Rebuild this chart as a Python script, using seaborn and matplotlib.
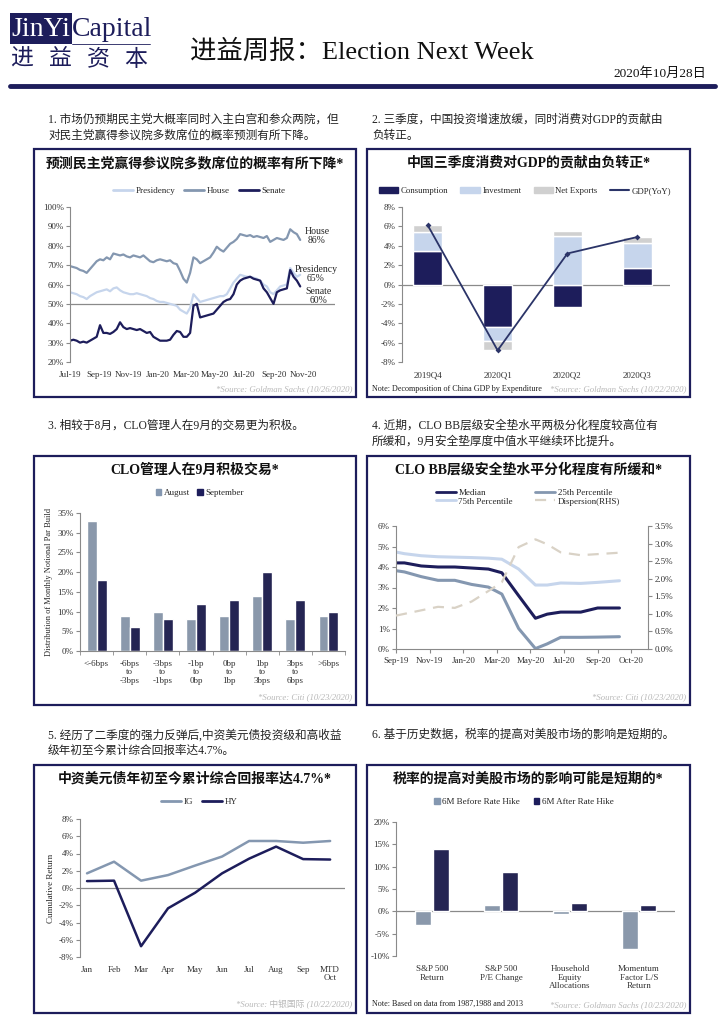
import numpy as np
import pandas as pd
import seaborn as sns
import matplotlib
matplotlib.use("Agg")
from matplotlib import pyplot as plt
from matplotlib.patches import Rectangle, Patch
from matplotlib.lines import Line2D
from matplotlib.ticker import FuncFormatter

# ---------------- data ----------------
# chart 1: weekly odds (%), Jul-19 .. Oct-20
poll_start = "2019-07-01"
poll_presidency = [
    56, 55.5, 55, 54, 53.5,          # Jul-19
    52.5, 54, 55, 56,                # Aug
    56.5, 57, 57.5, 56.5, 58,        # Sep
    58.5, 57, 56, 55.5,              # Oct
    55, 55, 55.5, 55,                # Nov
    54.5, 54, 53, 52.5, 51.5,        # Dec
    51, 51, 50.5, 50,                # Jan-20
    49.5, 49, 47, 46,                # Feb
    45, 48, 55, 53, 51,              # Mar
    51.5, 52, 52.5, 53,              # Apr
    53.5, 54, 54, 55,                # May
    58, 61, 63, 65, 64.5,            # Jun
    64, 64, 63.5, 63,                # Jul
    62, 60, 59, 56, 55,              # Aug
    57, 59, 59.5, 60,                # Sep
    68.5, 66, 64, 65,                # Oct
]
poll_house = [
    69.5, 69, 68.5, 67.5, 67,
    66, 68, 70, 72,
    73, 72.5, 74, 73, 76,
    75.5, 75, 75.5, 74.5,
    74, 75, 74.5, 74,
    75, 73.5, 72, 71.5, 72.5,
    73, 72.5, 72, 72.5,
    71, 70.5, 67, 63,
    61, 66, 74, 73, 71,
    72, 73, 74, 76.5,
    79.5, 78, 77, 79,
    81, 82, 83.5, 86, 85.5,
    85, 85.5, 84.5, 85,
    84.5, 84, 85, 82, 83,
    84, 83.5, 83, 84,
    88.5, 87, 86, 83,
]
poll_senate = [
    31, 31.5, 31, 30, 30.5,
    30, 31, 32, 33,
    39, 35, 35, 34.5, 35.5,
    37, 40.5, 38, 37,
    37.5, 37, 36.5, 37,
    36, 35, 35.5, 33, 32,
    31, 31, 31, 31.5,
    34, 36, 35.5, 33,
    33, 35, 49, 50, 43,
    43.5, 44, 44.5, 45,
    47, 49, 51, 52,
    52.5, 55, 60, 62, 63,
    63.5, 64, 63, 62.5,
    62, 58, 56, 53, 50,
    56, 57, 57.5, 58,
    67.5, 64, 62, 59,
]

# chart 2: China GDP contribution (%)
quarters = ["2019Q4", "2020Q1", "2020Q2", "2020Q3"]
consumption = [3.5, -4.4, -2.3, 1.7]
investment = [1.9, -1.4, 5.0, 2.6]
net_exports = [0.7, -1.0, 0.5, 0.6]
gdp_yoy = [6.1, -6.8, 3.2, 4.9]

# chart 3: CLO par build distribution (%)
buckets = ["<-6bps", "-6bps\nto\n-3bps", "-3bps\nto\n-1bps", "-1bp\nto\n0bp",
           "0bp\nto\n1bp", "1bp\nto\n3bps", "3bps\nto\n6bps", ">6bps"]
august = [33, 9, 10, 8, 9, 14, 8, 9]
september = [18, 6, 8, 12, 13, 20, 13, 10]

# chart 4: CLO BB cushion (%)
cushion_x = [0, 0.5, 1.5, 2.5, 3.5, 4.5, 5.5, 6.3, 7.3, 8.3, 9.0, 9.8, 11.0, 12.0, 13.3]
median = [4.2, 4.2, 4.05, 4.0, 4.0, 3.95, 3.9, 3.72, 2.6, 1.5, 1.7, 1.8, 1.8, 2.0, 2.0]
pct25 = [3.82, 3.76, 3.53, 3.35, 3.35, 3.15, 3.02, 2.68, 1.0, 0.02, 0.25, 0.57, 0.57, 0.58, 0.6]
pct75 = [4.73, 4.65, 4.55, 4.5, 4.48, 4.46, 4.43, 4.38, 3.9, 3.12, 3.12, 3.22, 3.2, 3.25, 3.33]
dispersion = [0.95, 1.0, 1.1, 1.2, 1.17, 1.35, 1.65, 1.9, 2.9, 3.12, 2.98, 2.75, 2.67, 2.7, 2.74]
cushion_ticks = ["Sep-19", "Nov-19", "Jan-20", "Mar-20", "May-20", "Jul-20", "Sep-20", "Oct-20"]

# chart 5: cumulative return (%)
months = ["Jan", "Feb", "Mar", "Apr", "May", "Jun", "Jul", "Aug", "Sep", "MTD\nOct"]
ig_return = [1.7, 3.05, 0.85, 1.5, 2.6, 3.65, 5.45, 5.45, 5.25, 5.45]
hy_return = [0.8, 0.85, -6.75, -2.35, -0.55, 1.7, 3.4, 4.8, 3.35, 3.3]

# chart 6: rate hike impact (%)
hike_cats = ["S&P 500\nReturn", "S&P 500\nP/E Change", "Household\nEquity\nAllocations",
             "Momentum\nFactor L/S\nReturn"]
before_hike = [-3.0, 1.4, -0.5, -8.5]
after_hike = [13.9, 8.9, 1.9, 1.5]

# ---------------- style ----------------
NAVY = "#1d1d5b"
GRAYBLUE = "#8497b0"
LIGHT = "#c6d5ec"
LGRAY = "#d0d0d0"
AXIS = "#8a8a8a"
SRC = "#b8b8b8"

sns.set_style("white")
plt.rcParams["font.family"] = ["Liberation Serif", "Noto Sans CJK SC", "DejaVu Sans"]
plt.rcParams["axes.unicode_minus"] = False

W, H = 724, 1024
fig = plt.figure(figsize=(W / 100, H / 100), dpi=100)


def fx(x):
    return x / W


def fy(y):
    return 1 - y / H


def panel_axes(x0, y0, x1, y1):
    return fig.add_axes([fx(x0), fy(y1), (x1 - x0) / W, (y1 - y0) / H])


def txt(x, y, s, **kw):
    kw.setdefault("va", "center")
    return fig.text(fx(x), fy(y), s, **kw)


def pct(fmt):
    return FuncFormatter(lambda v, p: fmt % v + "%")


def style_axes(ax, fmt="%d", hide_bottom=True):
    sns.despine(ax=ax, top=True, right=True, bottom=hide_bottom)
    ax.spines["left"].set_color(AXIS)
    ax.spines["bottom"].set_color(AXIS)
    ax.tick_params(axis="y", left=True, length=3, width=0.8, color=AXIS,
                   labelsize=6.5, pad=1.5, labelcolor="#333333")
    ax.tick_params(axis="x", bottom=False, labelsize=6.5, pad=3, labelcolor="#333333")
    ax.yaxis.set_major_formatter(pct(fmt))
    ax.set_xlabel("")
    ax.set_ylabel("")


def legend(ax, handles, labels, cx, cy, ncol, **kw):
    opts = dict(loc="center", bbox_to_anchor=(fx(cx), fy(cy)), bbox_transform=fig.transFigure,
                ncol=ncol, frameon=False, fontsize=6.5, handlelength=2.2,
                columnspacing=1.0, handletextpad=0.3, borderpad=0, labelspacing=0.2)
    opts.update(kw)
    ax.legend(handles, labels, **opts)


# ---------------- header ----------------
fig.add_artist(Rectangle((fx(10), fy(44)), 62 / W, 31 / H, transform=fig.transFigure,
                         fc=NAVY, ec="none"))
txt(11, 29, "JinYi", color="white", fontsize=20, ha="left")
txt(72, 29, "Capital", color=NAVY, fontsize=20, ha="left")
fig.add_artist(Line2D([fx(72), fx(150)], [fy(44), fy(44)], transform=fig.transFigure,
                      color=NAVY, lw=0.6))
for cx, ch in zip([22, 60, 98, 136], "进益资本"):
    txt(cx, 59, ch, color=NAVY, fontsize=16.5, ha="center", family="Noto Sans CJK SC",
        fontweight="medium")
txt(190, 52, "进益周报：Election Next Week", fontsize=19, ha="left", color="#111111")
txt(706, 74, "2020年10月28日", fontsize=9.5, ha="right", color="#111111")
fig.add_artist(Line2D([fx(10), fx(715)], [fy(86), fy(86)], transform=fig.transFigure,
                      color=NAVY, lw=3.5))

paras = [
    (48, 120, "1. 市场仍预期民主党大概率同时入主白宫和参众两院，但"),
    (48, 136, "对民主党赢得参议院多数席位的概率预测有所下降。"),
    (372, 120, "2. 三季度，中国投资增速放缓，同时消费对GDP的贡献由"),
    (372, 136, "负转正。"),
    (48, 426, "3. 相较于8月，CLO管理人在9月的交易更为积极。"),
    (372, 426, "4. 近期，CLO BB层级安全垫水平两极分化程度较高位有"),
    (372, 442, "所缓和，9月安全垫厚度中值水平继续环比提升。"),
    (48, 735, "5. 经历了二季度的强力反弹后,中资美元债投资级和高收益"),
    (48, 751, "级年初至今累计综合回报率达4.7%。"),
    (372, 735, "6. 基于历史数据，税率的提高对美股市场的影响是短期的。"),
]
for x, y, s in paras:
    txt(x, y, s, fontsize=8.4, ha="left", color="#222222")

# ---------------- panels ----------------
boxes = [(34, 149, 356, 397), (367, 149, 690, 397), (34, 456, 356, 705),
         (367, 456, 690, 705), (34, 765, 356, 1013), (367, 765, 690, 1013)]
titles = ["预测民主党赢得参议院多数席位的概率有所下降*", "中国三季度消费对GDP的贡献由负转正*",
          "CLO管理人在9月积极交易*", "CLO BB层级安全垫水平分化程度有所缓和*",
          "中资美元债年初至今累计综合回报率达4.7%*", "税率的提高对美股市场的影响可能是短期的*"]
sources = ["*Source: Goldman Sachs (10/26/2020)", "*Source: Goldman Sachs (10/22/2020)",
           "*Source: Citi (10/23/2020)", "*Source: Citi (10/23/2020)",
           "*Source: 中银国际 (10/22/2020)", "*Source: Goldman Sachs (10/23/2020)"]
for (x0, y0, x1, y1), t, s in zip(boxes, titles, sources):
    fig.add_artist(Rectangle((fx(x0), fy(y1)), (x1 - x0) / W, (y1 - y0) / H,
                             transform=fig.transFigure, fill=False, ec=NAVY, lw=1.6))
    txt((x0 + x1) / 2, y0 + 14, t, fontsize=10, fontweight="bold", ha="center", color="#111111")
    txt(x1 - 4, y1 - 8, s, fontsize=6.3, ha="right", style="italic", color=SRC)

# ---- chart 1 ----
poll_dates = pd.date_range(poll_start, periods=len(poll_house), freq="7D")
ax1 = panel_axes(70, 207, 335, 362)
sns.lineplot(x=poll_dates, y=poll_presidency, color=LIGHT, lw=1.6, ax=ax1)
sns.lineplot(x=poll_dates, y=poll_house, color=GRAYBLUE, lw=1.6, ax=ax1)
sns.lineplot(x=poll_dates, y=poll_senate, color=NAVY, lw=1.6, ax=ax1)
ax1.axhline(50, color=AXIS, lw=0.9, zorder=0)
ax1.set_ylim(20, 100)
ax1.set_yticks(range(20, 101, 10))
ax1.set_xlim(pd.Timestamp("2019-07-01"), pd.Timestamp("2021-01-07"))
tick_dates = pd.date_range("2019-07-01", "2020-11-01", freq="2MS")
ax1.set_xticks(tick_dates)
ax1.set_xticklabels([d.strftime("%b-%y") for d in tick_dates])
style_axes(ax1)
legend(ax1, [Line2D([], [], color=c, lw=2) for c in (LIGHT, GRAYBLUE, NAVY)],
       ["Presidency", "House", "Senate"], 199, 191, 3)
txt(317, 236, "House\n86%", fontsize=7, ha="center", linespacing=1.0)
txt(316, 274, "Presidency\n65%", fontsize=7, ha="center", linespacing=1.0)
txt(319, 296, "Senate\n60%", fontsize=7, ha="center", linespacing=1.0)

# ---- chart 2 ----
ax2 = panel_axes(402, 207, 670, 362)
xq = np.arange(len(quarters))
pos_bottom = np.zeros(len(quarters))
neg_bottom = np.zeros(len(quarters))
for vals, col in [(consumption, NAVY), (investment, LIGHT), (net_exports, LGRAY)]:
    vals = np.array(vals)
    bottom = np.where(vals >= 0, pos_bottom, neg_bottom)
    ax2.bar(xq, vals, bottom=bottom, width=0.42, color=col, zorder=2)
    pos_bottom += np.where(vals >= 0, vals, 0)
    neg_bottom += np.where(vals < 0, vals, 0)
sns.lineplot(x=xq, y=gdp_yoy, color="#2b3468", lw=1.3, marker="D", markersize=3,
             markeredgewidth=0, ax=ax2, zorder=3)
ax2.axhline(0, color=AXIS, lw=0.9, zorder=1)
ax2.set_ylim(-8, 8)
ax2.set_yticks(range(-8, 9, 2))
ax2.set_xlim(-0.37, 3.47)
ax2.set_xticks(xq)
ax2.set_xticklabels(quarters)
style_axes(ax2)
legend(ax2, [Patch(color=NAVY), Patch(color=LIGHT), Patch(color=LGRAY),
             Line2D([], [], color="#2b3468", lw=1.5)],
       ["Consumption", "Investment", "Net Exports", "GDP(YoY)"], 525, 191, 4,
       handleheight=0.6, fontsize=6.3, columnspacing=1.4)
txt(372, 389, "Note: Decomposition of China GDP by Expenditure", fontsize=5.9,
    ha="left", color="#222222")

# ---- chart 3 ----
ax3 = panel_axes(80, 513, 345, 651)
clo_df = pd.DataFrame({
    "bucket": buckets * 2,
    "value": august + september,
    "month": ["August"] * len(buckets) + ["September"] * len(buckets),
})
sns.barplot(data=clo_df, x="bucket", y="value", hue="month", palette=[GRAYBLUE, NAVY],
            width=0.6, gap=0, legend=False, ax=ax3, zorder=2)
ax3.set_ylim(0, 35)
ax3.set_yticks(range(0, 36, 5))
ax3.set_xlim(-0.5, 7.5)
style_axes(ax3, hide_bottom=False)
ax3.set_xticks(np.arange(-0.5, 8, 1), minor=True)
ax3.tick_params(axis="x", which="minor", bottom=True, length=3, color=AXIS)
for lab in ax3.get_xticklabels():
    lab.set_linespacing(1.05)
ax3.set_ylabel("Distribution of Monthly Notional Par Build", fontsize=6, labelpad=3)
legend(ax3, [Patch(color=GRAYBLUE), Patch(color=NAVY)], ["August", "September"],
       200, 493, 2, handlelength=0.6, handleheight=0.6, columnspacing=0.8)

# ---- chart 4 ----
ax4 = panel_axes(396, 526, 648, 649)
sns.lineplot(x=cushion_x, y=pct75, color=LIGHT, lw=2.2, ax=ax4)
sns.lineplot(x=cushion_x, y=pct25, color=GRAYBLUE, lw=2.2, ax=ax4)
sns.lineplot(x=cushion_x, y=median, color=NAVY, lw=2.2, ax=ax4)
ax4.set_ylim(0, 6)
ax4.set_yticks(range(0, 7))
ax4.set_xlim(0, 15)
ax4.set_xticks(range(0, 15, 2))
ax4.set_xticklabels(cushion_ticks)
style_axes(ax4, hide_bottom=False)
ax4.tick_params(axis="x", bottom=True, length=3, color=AXIS)
ax4r = ax4.twinx()
sns.lineplot(x=cushion_x, y=dispersion, color="#d9d2c6", lw=1.6, ax=ax4r)
ax4r.lines[0].set_dashes((5, 3.5))
ax4r.set_ylim(0, 3.5)
ax4r.set_yticks(np.arange(0, 3.51, 0.5))
ax4r.yaxis.set_major_formatter(pct("%.1f"))
sns.despine(ax=ax4r, top=True, left=True, right=False, bottom=True)
ax4r.spines["right"].set_color(AXIS)
ax4r.tick_params(axis="y", right=True, length=3, color=AXIS, labelsize=6.5, pad=1.5,
                 labelcolor="#333333")
ax4r.set_ylabel("")
legend(ax4, [Line2D([], [], color=NAVY, lw=2), Line2D([], [], color=LIGHT, lw=2),
             Line2D([], [], color=GRAYBLUE, lw=2),
             Line2D([], [], color="#d9d2c6", lw=1.6, dashes=(5, 3.5))],
       ["Median", "75th Percentile", "25th Percentile", "Dispersion(RHS)"],
       528, 497, 2, columnspacing=2.5, labelspacing=0.05)

# ---- chart 5 ----
ax5 = panel_axes(80, 819, 345, 957)
xm = np.arange(len(months))
sns.lineplot(x=xm, y=ig_return, color=GRAYBLUE, lw=1.8, ax=ax5)
sns.lineplot(x=xm, y=hy_return, color=NAVY, lw=1.8, ax=ax5)
ax5.axhline(0, color=AXIS, lw=0.9, zorder=0)
ax5.set_ylim(-8, 8)
ax5.set_yticks(range(-8, 9, 2))
ax5.set_xlim(-0.26, 9.55)
ax5.set_xticks(xm)
ax5.set_xticklabels(months, linespacing=1.0)
style_axes(ax5)
ax5.set_ylabel("Cumulative Return", fontsize=6.5, labelpad=3)
legend(ax5, [Line2D([], [], color=GRAYBLUE, lw=2), Line2D([], [], color=NAVY, lw=2)],
       ["IG", "HY"], 199, 802, 2)

# ---- chart 6 ----
ax6 = panel_axes(396, 822, 675, 956)
hike_df = pd.DataFrame({
    "cat": hike_cats * 2,
    "value": before_hike + after_hike,
    "period": ["6M Before Rate Hike"] * len(hike_cats) + ["6M After Rate Hike"] * len(hike_cats),
})
sns.barplot(data=hike_df, x="cat", y="value", hue="period", palette=[GRAYBLUE, NAVY],
            width=0.54, gap=0.15, legend=False, ax=ax6, zorder=2)
ax6.axhline(0, color=AXIS, lw=0.9, zorder=1)
ax6.set_ylim(-10, 20)
ax6.set_yticks(range(-10, 21, 5))
ax6.set_xlim(-0.52, 3.52)
style_axes(ax6)
for lab in ax6.get_xticklabels():
    lab.set_linespacing(1.1)
legend(ax6, [Patch(color=GRAYBLUE), Patch(color=NAVY)],
       ["6M Before Rate Hike", "6M After Rate Hike"], 524, 802, 2,
       handlelength=0.6, handleheight=0.6, columnspacing=1.5)
txt(372, 1004, "Note: Based on data from 1987,1988 and 2013", fontsize=5.9,
    ha="left", color="#222222")

fig.savefig("out.png", dpi=100)
